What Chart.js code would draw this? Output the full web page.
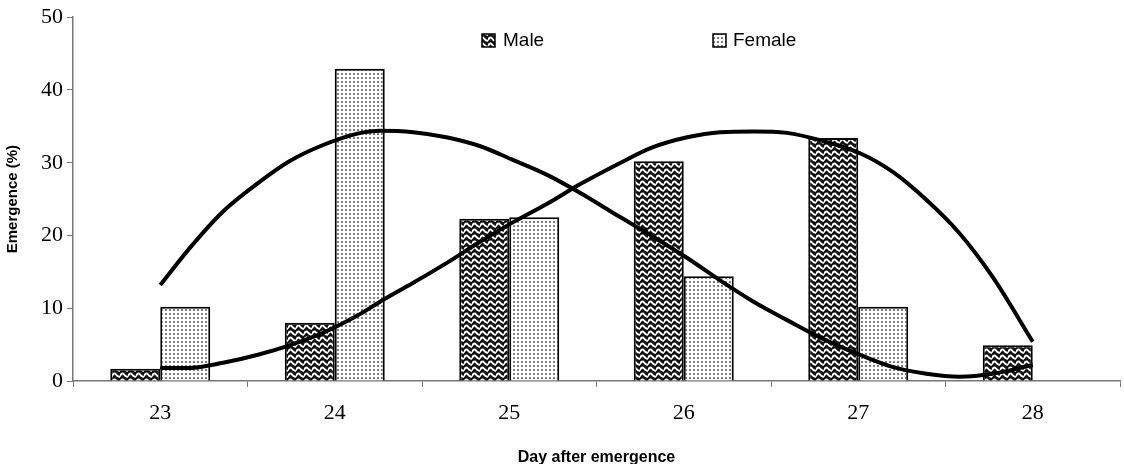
<!DOCTYPE html>
<html lang="en">
<head>
  <meta charset="UTF-8">
  <title>Emergence by day</title>
  <script src="https://cdn.jsdelivr.net/npm/chart.js"></script>
  <style>
    html, body { margin: 0; padding: 0; background: #fff; }
    #wrap { width: 1124px; height: 464px; }
  </style>
</head>
<body>
  <div id="wrap"><canvas id="chart" width="1124" height="464"></canvas></div>

  <script>
    // bar data (% emergence per day)
    const days = ['23', '24', '25', '26', '27', '28'];
    const male = [1.7, 8.0, 22.3, 30.2, 33.4, 4.9];
    const female = [10.2, 42.9, 22.5, 14.4, 10.2, 0];

    // trend curves
    const trendDays = [23.0, 23.17, 23.36, 23.56, 23.74, 23.93, 24.13, 24.26, 24.45, 24.64, 24.83, 25.02, 25.22, 25.41,
                       25.63, 25.82, 26.02, 26.21, 26.40, 26.59, 26.78, 27.01, 27.20, 27.39, 27.58, 27.77, 28.0];
    const femaleTrend = [13.2, 18.3, 23.3, 27.2, 30.2, 32.4, 34.0, 34.4, 34.2, 33.5, 32.3, 30.4, 28.3, 25.8,
                         22.6, 19.9, 16.9, 13.8, 10.9, 8.4, 6.0, 3.6, 1.9, 1.0, 0.6, 1.0, 2.2];
    const maleTrend = [1.8, 1.8, 2.5, 3.6, 4.9, 6.6, 9.0, 10.9, 13.5, 16.2, 19.1, 21.8, 24.4, 27.1,
                       29.9, 32.1, 33.5, 34.2, 34.3, 34.1, 33.1, 31.3, 28.7, 24.9, 20.3, 14.3, 5.4];

    const yTicks = [0, 10, 20, 30, 40, 50];

    const tile = (w, h, draw) => {
      const c = document.createElement('canvas');
      c.width = w; c.height = h;
      draw(c.getContext('2d'));
      return document.getElementById('chart').getContext('2d').createPattern(c, 'repeat');
    };

    // black weave with white squiggles
    const malePattern = tile(8, 6, g => {
      g.fillStyle = '#111';
      g.fillRect(0, 0, 8, 6);
      g.strokeStyle = '#fff';
      g.lineWidth = 2;
      g.beginPath();
      g.moveTo(-0.5, 4.5);
      g.quadraticCurveTo(2, 0, 4, 2.5);
      g.quadraticCurveTo(6, 5.5, 8.5, 4.5);
      g.stroke();
    });

    // fine grey dots
    const femalePattern = tile(4, 4, g => {
      g.fillStyle = '#fff';
      g.fillRect(0, 0, 4, 4);
      g.fillStyle = '#808080';
      g.fillRect(1, 1, 2, 2);
    });

    const legendItems = [
      { text: 'Male', fill: malePattern, box: 482, txt: 503 },
      { text: 'Female', fill: femalePattern, box: 713, txt: 733 }
    ];

    const legendPlugin = {
      id: 'insideLegend',
      afterDraw(chart) {
        const ctx = chart.ctx;
        ctx.save();
        ctx.font = '19px "Liberation Sans", Arial, sans-serif';
        ctx.textBaseline = 'middle';
        legendItems.forEach(it => {
          ctx.fillStyle = it.fill;
          ctx.fillRect(it.box, 34, 13, 13);
          ctx.lineWidth = 1.5;
          ctx.strokeStyle = '#000';
          ctx.strokeRect(it.box, 34, 13, 13);
          ctx.fillStyle = '#000';
          ctx.fillText(it.text, it.txt, 41);
        });
        ctx.restore();
      }
    };

    const tickFont = { family: '"Liberation Serif", "Times New Roman", serif', size: 22 };
    const titleFont = { family: '"Liberation Sans", Arial, sans-serif', weight: 'bold' };

    // every dataset sits on the hidden linear axis 'xv'; the category axis 'x' only shows labels and ticks
    new Chart(document.getElementById('chart').getContext('2d'), {
      type: 'bar',
      data: {
        labels: days,
        datasets: [
          { label: 'Male', data: days.map((d, i) => ({ x: +d, y: male[i] })), xAxisID: 'xv',
            backgroundColor: malePattern, borderColor: '#000', borderWidth: 2,
            categoryPercentage: 0.573, barPercentage: 1.0, order: 1 },
          { label: 'Female', data: days.map((d, i) => ({ x: +d, y: female[i] })), xAxisID: 'xv',
            backgroundColor: femalePattern, borderColor: '#000', borderWidth: 2,
            categoryPercentage: 0.573, barPercentage: 1.0, order: 1 },
          { type: 'line', label: 'Female trend', data: trendDays.map((d, i) => ({ x: d, y: femaleTrend[i] })),
            xAxisID: 'xv', borderColor: '#000', borderWidth: 4, pointRadius: 0,
            cubicInterpolationMode: 'monotone', fill: false, order: 0 },
          { type: 'line', label: 'Male trend', data: trendDays.map((d, i) => ({ x: d, y: maleTrend[i] })),
            xAxisID: 'xv', borderColor: '#000', borderWidth: 4, pointRadius: 0,
            cubicInterpolationMode: 'monotone', fill: false, order: 0 }
        ]
      },
      options: {
        responsive: false,
        animation: false,
        layout: { padding: { top: 17, right: 4, left: 0, bottom: 0 } },
        plugins: { legend: { display: false }, tooltip: { enabled: false } },
        scales: {
          x: {
            type: 'category',
            offset: true,
            grid: { offset: true, drawOnChartArea: false, tickLength: 6, color: '#777' },
            border: { color: '#777', width: 1.5 },
            ticks: { color: '#000', font: tickFont, padding: 13 },
            title: { display: true, text: 'Day after emergence', color: '#000',
                     font: { ...titleFont, size: 16, lineHeight: 1 }, padding: { top: 4, bottom: -2 } },
            afterFit: s => { s.height = 83; }
          },
          xv: {
            type: 'linear', display: false, offset: false, min: 22.5, max: 28.5,
            afterBuildTicks: s => { s.ticks = days.map(d => ({ value: +d })); }
          },
          y: {
            min: 0, max: 50,
            afterBuildTicks: s => { s.ticks = yTicks.map(v => ({ value: v })); },
            grid: { drawOnChartArea: false, tickLength: 6, color: '#777' },
            border: { color: '#777', width: 1.5 },
            ticks: { color: '#000', font: tickFont, padding: 4 },
            title: { display: true, text: 'Emergence (%)', color: '#000',
                     font: { ...titleFont, size: 15 }, padding: { bottom: 0 } },
            afterFit: s => { s.width = 73; }
          }
        }
      },
      plugins: [legendPlugin]
    });
  </script>
</body>
</html>
